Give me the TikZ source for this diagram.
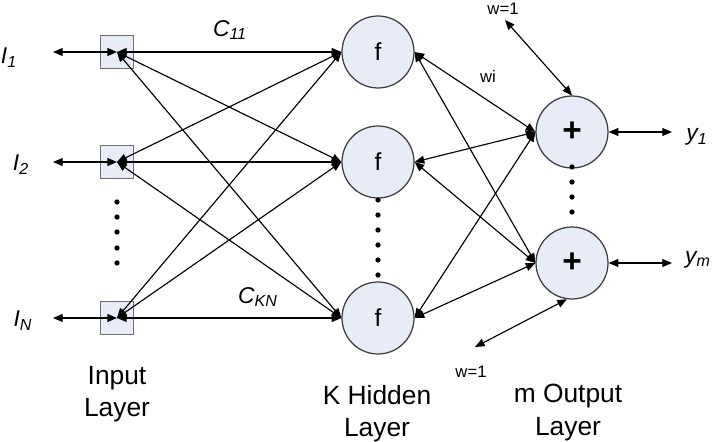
\documentclass[tikz,border=0pt]{standalone}
\usepackage{fontspec}
\setmainfont{Liberation Sans}
\usetikzlibrary{arrows.meta}
\definecolor{nodefill}{RGB}{232,236,247}
\definecolor{boxgray}{RGB}{110,110,110}
\definecolor{ringgray}{RGB}{60,60,60}

\begin{document}
\begin{tikzpicture}
		[x=0.02cm,y=-0.02cm,
		 inbox/.style= {minimum size=0.66cm,inner sep=0pt,draw=boxgray,fill=nodefill,line width=0.7pt},
		 neuron/.style= {minimum size=1.44cm,inner sep=0pt,circle,draw=ringgray,fill=nodefill,line width=0.7pt,font=\fontsize{14}{16}\selectfont},
		 link/.style= {<->,line width=0.65pt,>={Triangle[length=5.5pt,width=4.5pt]}},
		 sig/.style= {inner sep=0pt,font=\fontsize{13}{15}\selectfont\itshape},
		 weight/.style= {inner sep=0pt,font=\fontsize{9.5}{11}\selectfont},
		 layer/.style= {inner sep=0pt,anchor=north,align=center,font=\fontsize{15}{18.5}\selectfont}]

		\useasboundingbox (0,0) rectangle (716,442);

		% input layer
		\node[inbox] (i1) at (117,52) {};
		\node[inbox] (i2) at (117,162) {};
		\node[inbox] (iN) at (117,318) {};
		\coordinate (l1) at (53,52);
		\coordinate (l2) at (53,162);
		\coordinate (lN) at (53,318);
		\node[sig] (t1) at (9,58) {I\textsubscript{1}};
		\node[sig] (t2) at (21,165) {I\textsubscript{2}};
		\node[sig] (tN) at (23,321) {I\textsubscript{N}};
		\foreach \y in {202,217,232,248,263}
			\fill (117,\y) circle (1.5pt);

		% hidden layer
		\node[neuron] (h1) at (378,52) {f};
		\node[neuron] (h2) at (378,162) {f};
		\node[neuron] (hK) at (378,318) {f};
		\foreach \y in {200,215,230,245,260,275}
			\fill (378,\y) circle (1.5pt);

		% output layer
		\node[neuron] (o1) at (572,132) {\fontsize{19}{20}\selectfont\bfseries +};
		\node[neuron] (om) at (572,263) {\fontsize{19}{20}\selectfont\bfseries +};
		\foreach \y in {167,182,197,212}
			\fill (572,\y) circle (1.5pt);
		\coordinate (r1) at (672,132);
		\coordinate (rm) at (672,263);
		\coordinate (wt) at (505,20);
		\coordinate (wb) at (475,347);
		\node[sig] (y1) at (697,137) {y\textsubscript{1}};
		\node[sig] (ym) at (698,260) {y\textsubscript{m}};

		\draw (i1.center) edge[link] (l1)
			edge[link] (h1.west) edge[link] (h2.west) edge[link] (hK.west);
		\draw (i2.center) edge[link] (l2)
			edge[link] (h1.west) edge[link] (h2.west) edge[link] (hK.west);
		\draw (iN.center) edge[link] (lN)
			edge[link] (h1.west) edge[link] (h2.west) edge[link] (hK.west);

		\draw (h1.east) edge[link] (o1.west) edge[link] (om.west);
		\draw (h2.east) edge[link] (o1.west) edge[link] (om.west);
		\draw (hK.east) edge[link] (o1.west) edge[link] (om.west);

		\draw (o1.east) edge[link] (r1);
		\draw (om.east) edge[link] (rm);
		\draw (o1.north) edge[link] (wt);
		\draw (om.-98) edge[link] (wb);

		\node[sig] (c11) at (230,30) {C\textsubscript{11}};
		\node[sig] (ckn) at (258,297) {C\textsubscript{KN}};
		\node[weight] (wi) at (488,76) {wi};
		\node[weight] (w1t) at (503,9) {w=1};
		\node[weight] (w1b) at (471,372) {w=1};

		\node[layer] (lin) at (117,366) {Input\\Layer};
		\node[layer] (lhid) at (377,385) {K Hidden\\Layer};
		\node[layer] (lout) at (568,384) {m Output\\Layer};

	\end{tikzpicture}
\end{document}
